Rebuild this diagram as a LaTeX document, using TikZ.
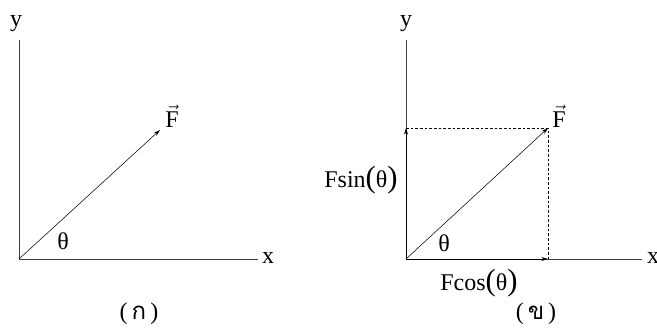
\documentclass[tikz,border=0pt]{standalone}
\usepackage{fontspec}
\setmainfont{Liberation Serif}
\newfontfamily\thaifont[Script=Thai]{Loma}
\usepackage{tikz}
\usetikzlibrary{positioning, arrows.meta}
\newcommand{\grande}[1]{{\fontsize{23}{23}\selectfont #1}}

\begin{document}
\begin{tikzpicture}[
    x=0.75pt, y=-0.75pt,
    every node/.style={font=\fontsize{18}{20}\selectfont, inner sep=0pt},
    eje/.style={draw=black!75, line width=0.6pt},
    vector/.style={-{Stealth[length=5pt, width=3pt]}, line width=0.4pt},
    componente/.style={-{Stealth[length=5pt, width=3pt]}, line width=0.6pt},
    guia/.style={dash pattern=on 2pt off 1.5pt, line width=0.5pt},
    titulo/.style={font=\fontsize{18}{20}\selectfont}
]
\useasboundingbox (0,0) rectangle (657,331);

% (ก)
\coordinate (o1) at (19,259);
\coordinate (ytop1) at (19,40);
\coordinate (xend1) at (258,259);
\coordinate (tip1) at (160,130);
\draw[eje] (ytop1) -- (o1) -- (xend1);
\draw[vector] (o1) -- (tip1);
\node (y1) at (16,24) {y};
\node (x1) at (268,258) {x};
\node (f1) at (172,116) {$\vec{\mathrm{F}}$};
\node (th1) at (63,241) {θ};
\node[titulo] (cap1) at (139,314) {(\,{\thaifont ก}\,)};

% (ข)
\coordinate (o2) at (406,259);
\coordinate (ytop2) at (406,40);
\coordinate (xend2) at (642,259);
\coordinate (tip2) at (548,128);
\coordinate (fy) at (406,128);
\coordinate (fx) at (548,259);
\draw[eje] (ytop2) -- (o2) -- (xend2);
\draw[guia] (fy) -- (tip2) -- (fx);
\draw[componente] (o2) -- (fy);
\draw[componente] (o2) -- (fx);
\draw[vector] (o2) -- (tip2);
\node (y2) at (406,24) {y};
\node (x2) at (653,258) {x};
\node (f2) at (559,116) {$\vec{\mathrm{F}}$};
\node (th2) at (444,243) {θ};
\node (fsin) at (361,180) {Fsin\grande{(}θ\grande{)}};
\node (fcos) at (479,283) {Fcos\grande{(}θ\grande{)}};
\node[titulo] (cap2) at (536,314) {(\,{\thaifont ข}\,)};
\end{tikzpicture}
\end{document}
